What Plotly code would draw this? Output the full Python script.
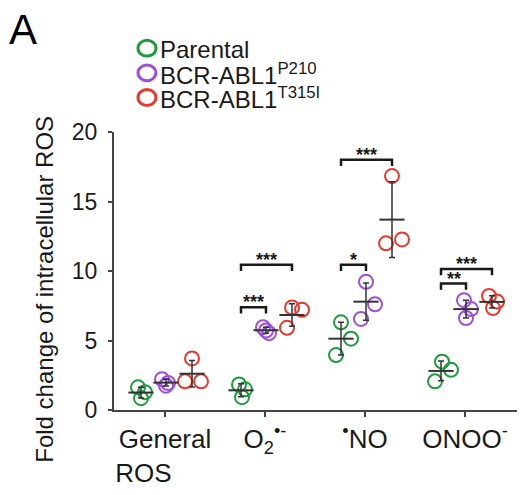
import numpy as np
import plotly.graph_objects as go

# ---- data ----
categories = ["General ROS", "O2•-", "•NO", "ONOO-"]
tick_text = ["General<br>ROS" + "\u00a0" * 6, "O<sub>2</sub><sup>•-</sup>", "<sup>•</sup>NO", "ONOO<sup>-</sup>"]
cat_pos = [1, 2, 3, 4]

group_names = ["Parental", "BCR-ABL1<sup>P210</sup>", "BCR-ABL1<sup>T315I</sup>"]

parental = [[1.63, 1.28, 0.85], [1.84, 1.49, 0.92], [6.31, 5.13, 3.95], [3.48, 2.89, 2.06]]
p210 = [[2.22, 1.94, 1.75], [5.96, 5.53, 5.72], [9.22, 7.61, 6.55], [7.90, 7.26, 6.62]]
t315i = [[3.71, 2.06, 2.06], [7.38, 7.21, 5.91], [16.83, 11.99, 12.27], [8.20, 7.80, 7.33]]
series_values = [parental, p210, t315i]

y_title = "Fold change of intracellular ROS"

# significance brackets
sig_category = [2, 2, 3, 3, 4, 4]
sig_group_a = [0, 0, 0, 0, 0, 0]
sig_group_b = [1, 2, 1, 2, 1, 2]
sig_height = [7.4, 10.45, 10.45, 18.0, 9.1, 10.15]
sig_label = ["***", "***", "*", "***", "**", "***"]

# ---- layout / style (not data) ----
group_offset = [-0.24, 0.01, 0.27]
point_jitter = [
    [[-0.03, 0.04, 0.0], [-0.02, 0.04, 0.01], [0.0, 0.1, -0.05], [0.01, 0.1, -0.06]],
    [[-0.04, 0.02, 0.0], [-0.03, 0.03, 0.0], [0.0, 0.09, -0.05], [-0.02, 0.05, 0.0]],
    [[0.0, -0.07, 0.09], [0.0, 0.1, -0.05], [0.0, -0.06, 0.1], [-0.03, 0.05, 0.01]],
]
colors = ["#1f9a3c", "#9b4fdc", "#e8392d"]
dark = "#333333"
font_family = "Arial, Liberation Sans, Helvetica, sans-serif"

M_L, M_R, M_T, M_B = 114, 7, 132, 81
W, H = 524, 495
PW, PH = W - M_L - M_R, H - M_T - M_B

def px_to_paper(px, py):
    return (px - M_L) / PW, (H - M_B - py) / PH

fig = go.Figure()

for g in range(3):
    xs, ys = [], []
    for c in range(4):
        for j, v in enumerate(series_values[g][c]):
            xs.append(cat_pos[c] + group_offset[g] + point_jitter[g][c][j])
            ys.append(v)
    fig.add_trace(go.Scatter(
        x=xs, y=ys, mode="markers", name=group_names[g], showlegend=False,
        marker=dict(symbol="circle-open", size=14, color=colors[g], line=dict(width=2, color=colors[g])),
    ))

for g in range(3):
    means = [float(np.mean(series_values[g][c])) for c in range(4)]
    sds = [float(np.std(series_values[g][c], ddof=1)) for c in range(4)]
    fig.add_trace(go.Scatter(
        x=[cat_pos[c] + group_offset[g] for c in range(4)], y=means,
        mode="markers", showlegend=False, hoverinfo="skip",
        marker=dict(symbol="line-ew", size=18, color=dark, line=dict(width=2, color=dark)),
        error_y=dict(type="data", array=sds, visible=True, color=dark, thickness=1.5, width=3),
    ))

leg = 0.45
for k in range(len(sig_label)):
    xa = sig_category[k] + group_offset[sig_group_a[k]]
    xb = sig_category[k] + group_offset[sig_group_b[k]]
    y = sig_height[k]
    fig.add_shape(type="path", xref="x", yref="y",
                  path=f"M {xa},{y - leg} L {xa},{y} L {xb},{y} L {xb},{y - leg}",
                  line=dict(color="#1a1a1a", width=2.5))
    fig.add_annotation(x=(xa + xb) / 2, y=y, xref="x", yref="y", text="<b>" + sig_label[k] + "</b>",
                       showarrow=False, yanchor="bottom", yshift=-7,
                       font=dict(size=18, color="#1a1a1a", family=font_family))

# legend drawn as circle shapes + text labels
legend_rows_py = [47, 72, 97]
for g in range(3):
    cx, cy = px_to_paper(147, legend_rows_py[g])
    rx, ry = 9 / PW, 8 / PH
    fig.add_shape(type="circle", xref="paper", yref="paper",
                  x0=cx - rx, x1=cx + rx, y0=cy - ry, y1=cy + ry,
                  line=dict(color=colors[g], width=3))
    tx, ty = px_to_paper(158, legend_rows_py[g])
    fig.add_annotation(x=tx, y=ty, xref="paper", yref="paper", text=group_names[g],
                       showarrow=False, xanchor="left", yanchor="middle", yshift=-1,
                       font=dict(size=24, color="#1a1a1a", family=font_family))

# y-axis title as rotated annotation
ytx, yty = px_to_paper(45, 292)
fig.add_annotation(x=ytx, y=yty, xref="paper", yref="paper", text=y_title, textangle=-90,
                   showarrow=False, xanchor="center", yanchor="middle",
                   font=dict(size=24, color="#1a1a1a", family=font_family))

fig.update_layout(
    width=W, height=H,
    margin=dict(l=M_L, r=M_R, t=M_T, b=M_B),
    paper_bgcolor="white", plot_bgcolor="white",
    font=dict(family=font_family, color="#1a1a1a"),
    title=dict(text="A", x=0.017, xref="container", y=0.970, yref="container", yanchor="top",
               xanchor="left", font=dict(size=42, color="black", family=font_family)),
    showlegend=False,
    xaxis=dict(range=[0.49, 4.52], tickmode="array", tickvals=cat_pos, ticktext=tick_text,
               showline=True, linecolor="#444444", linewidth=2, ticks="outside", ticklen=5,
               tickwidth=1.5, tickcolor="#444444", showgrid=False, zeroline=False,
               tickfont=dict(size=26, color="#1a1a1a")),
    yaxis=dict(range=[0, 20], tickvals=[0, 5, 10, 15, 20],
               showline=True, linecolor="#444444", linewidth=2, ticks="outside", ticklen=4,
               tickwidth=1.5, tickcolor="#444444", showgrid=False, zeroline=False,
               ticklabelstandoff=6,
               tickfont=dict(size=23, color="#1a1a1a")),
)

fig.write_html("out.html", config={"displayModeBar": False},
               post_script="document.body.style.margin='0';document.body.style.padding='0';")
